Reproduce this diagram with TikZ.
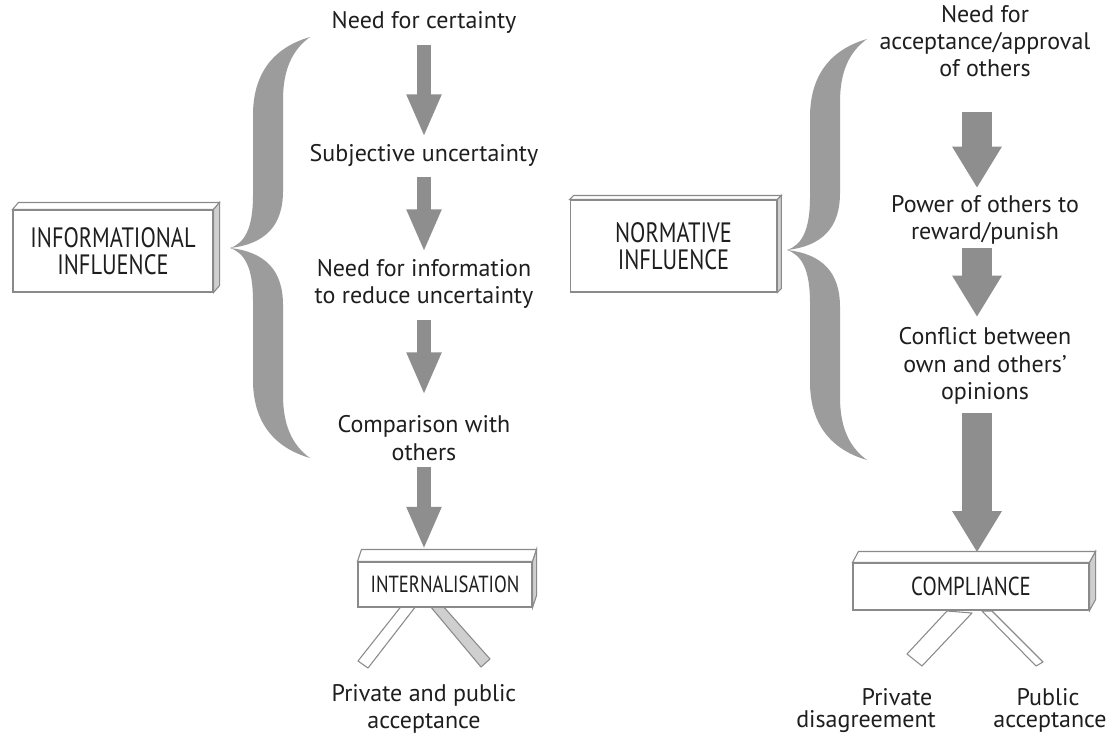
\documentclass[tikz,border=0pt]{standalone}
\usepackage{fontspec}
\setmainfont{PT Sans}
\newfontfamily\labelfont[FakeStretch=0.8]{PT Sans}
\usetikzlibrary{arrows.meta}
\definecolor{bracegray}{HTML}{9C9C9C}
\definecolor{arrowgray}{HTML}{8E8E8E}
\definecolor{edgegray}{HTML}{8A8A8A}
\definecolor{sidegray}{HTML}{CFCFCF}
\definecolor{inkgray}{HTML}{1E1E1E}

\tikzset{
  pics/curlybrace/.style={code={
    \fill[bracegray] (310,37)
      .. controls (272,48) and (253,75) .. (253,115)
      -- (253,195)
      .. controls (253,228) and (245,243) .. (230,248)
      .. controls (245,253) and (253,268) .. (253,301)
      -- (253,380)
      .. controls (253,420) and (272,447) .. (310,458)
      .. controls (292,445) and (283,425) .. (283,395)
      -- (283,305)
      .. controls (283,270) and (265,252) .. (230,248)
      .. controls (265,244) and (283,226) .. (283,191)
      -- (283,100)
      .. controls (283,70) and (292,50) .. (310,37) -- cycle;
  }}
}

\begin{document}
\begin{tikzpicture}[x=0.75pt,y=-0.75pt,
  txt/.style={font=\fontsize{18}{20.5}\selectfont, align=center, inner sep=0pt, text=inkgray},
  lbl/.style={font=\labelfont\fontsize{21}{20}\selectfont, align=center, inner sep=0pt, text=inkgray},
  barlbl/.style={font=\labelfont\fontsize{#1}{20}\selectfont, align=center, inner sep=0pt, text=inkgray},
  boxfront/.style={draw=edgegray, fill=white, line width=0.8pt},
  boxface/.style={draw=edgegray, fill=white, line width=0.8pt},
  boxside/.style={draw=edgegray, fill=sidegray, line width=0.8pt},
  legopen/.style={draw=edgegray, fill=white, line width=0.8pt, line join=round},
  legshaded/.style={draw=edgegray, fill=sidegray, line width=0.8pt, line join=round},
  thinarrow/.style={draw=arrowgray, line width=10.5pt, -{Triangle[length=32pt,width=24pt]}},
  widearrow/.style={draw=arrowgray, line width=22pt, -{Triangle[length=31pt,width=35pt]}}
]
\useasboundingbox (0,0) rectangle (1109,736);
\fill[white] (0,0) rectangle (1109,736);

% ---------- braces ----------
\pic at (0,0) {curlybrace};
\pic at (557,2) {curlybrace};

% ---------- informational side ----------
\node[txt] (n1) at (424,22) {Need for certainty};
\node[txt] (n2) at (424,155) {Subjective uncertainty};
\node[txt] (n3) at (424,284) {Need for information\\to reduce uncertainty};
\node[txt] (n4) at (424,438) {Comparison with\\others};

\node[boxfront, lbl, minimum width=150pt, minimum height=61.5pt] (infl) at (113,251) {INFORMATIONAL\\INFLUENCE};
\draw[boxface] (infl.north west) -- ++(6,-7) -- ([shift={(6,-7)}]infl.north east) -- (infl.north east) -- cycle;
\draw[boxside] (infl.north east) -- ++(6,-7) -- ([shift={(6,-7)}]infl.south east) -- (infl.south east) -- cycle;

% legs under the internalisation bar
\draw[legopen] (403,604) -- (416,606) -- (368,668) -- (358,661) -- cycle;
\draw[legshaded] (430,606) -- (442,605) -- (490,659) -- (481,667) -- cycle;

\node[boxfront, barlbl=17.5, minimum width=130.5pt, minimum height=33.75pt] (intl) at (445,584.5) {INTERNALISATION};
\draw[boxface] (intl.north west) -- ++(4,-12) -- ([shift={(4,-12)}]intl.north east) -- (intl.north east) -- cycle;
\draw[boxside] (intl.north east) -- ++(4,-12) -- ([shift={(4,-12)}]intl.south east) -- (intl.south east) -- cycle;

\draw[thinarrow, shorten <=17.25pt, shorten >=13.5pt] (n1.center) -- (n2.center);
\draw[thinarrow, shorten <=16.5pt, shorten >=24pt] (n2.center) -- (n3.center);
\draw[thinarrow, shorten <=27pt, shorten >=32.25pt] (n3.center) -- (n4.center);
\draw[thinarrow, shorten <=21.75pt, shorten >=9pt] (n4.center) -- (n4.center |- intl.north);

\node[txt] (pa) at (424,709) {Private and public\\acceptance};

% ---------- normative side ----------
\node[txt] (r1) at (985,41) {Need for\\acceptance/approval\\of others};
\node[txt] (r2) at (985,220) {Power of others to\\reward/punish};
\node[txt] (r3) at (985,366) {Conflict between\\own and others'\\opinions};

\node[boxfront, lbl, minimum width=155pt, minimum height=69pt] (norm) at (673.5,246) {NORMATIVE\\INFLUENCE};
\draw[boxface] (norm.north west) -- ++(4,-4) -- ([shift={(4,-4)}]norm.north east) -- (norm.north east) -- cycle;
\draw[boxside] (norm.north east) -- ++(4,-4) -- ([shift={(4,-4)}]norm.south east) -- (norm.south east) -- cycle;

% legs under the compliance bar
\draw[legopen] (947,611) -- (972,613) -- (922,666) -- (907,654) -- cycle;
\draw[legopen] (982,611) -- (992,611) -- (1043,662) -- (1036,666) -- cycle;

\node[boxfront, barlbl=19.5, minimum width=177pt, minimum height=35.25pt] (comp) at (971,586.5) {COMPLIANCE};
\draw[boxface] (comp.north west) -- ++(6,-11) -- ([shift={(6,-11)}]comp.north east) -- (comp.north east) -- cycle;
\draw[boxside] (comp.north east) -- ++(6,-11) -- ([shift={(6,-11)}]comp.south east) -- (comp.south east) -- cycle;

\draw[widearrow, shorten <=53.25pt, shorten >=24pt] ([xshift=-6pt]r1.center) -- ([xshift=-6pt]r2.center);
\draw[widearrow, shorten <=21pt, shorten >=36.75pt] ([xshift=-6pt]r2.center) -- ([xshift=-6pt]r3.center);
\draw[widearrow, shorten <=35.25pt, shorten >=7.5pt] ([xshift=-6pt]r3.center) -- ([xshift=-6pt]r3.center |- comp.north);

\node[txt] (pd1) at (897,697) {Private};
\node[txt] (pd2) at (866,722) {disagreement};
\node[txt] (pb1) at (1048,697) {Public};
\node[txt] (pb2) at (1050,722) {acceptance};
\end{tikzpicture}
\end{document}
